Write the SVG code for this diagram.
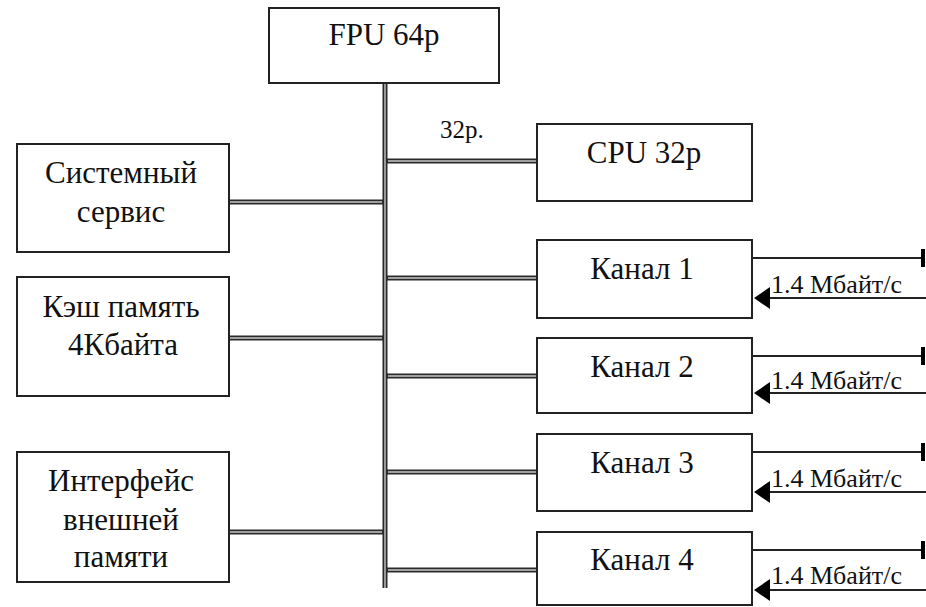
<svg xmlns="http://www.w3.org/2000/svg" width="926" height="607" viewBox="0 0 926 607">
<style>
.box{fill:#fff;stroke:#222;stroke-width:2}
.t{font-family:'Liberation Serif','DejaVu Serif',serif;font-size:31px;fill:#111;text-anchor:middle}
.s{font-family:'Liberation Serif','DejaVu Serif',serif;font-size:25px;fill:#111}
.lb{font-size:26px}
.bo{stroke:#2a2a2a;stroke-width:5;fill:none}
.bi{stroke:#c8c8c8;stroke-width:1.4;fill:none}
.ln{stroke:#222;stroke-width:2;fill:none}
</style>
<defs>
<marker id="ah" markerUnits="userSpaceOnUse" markerWidth="18" markerHeight="22" refX="0" refY="11" orient="auto" viewBox="0 0 18 22">
<path d="M0,0 L16,11 L0,22 Z" fill="#000"/>
</marker>
</defs>
<g id="connectors">
<path class="bo" d="M385,83 V588 M229,202 H385 M229,338 H385 M229,532 H385 M385,161 H537 M385,278 H537 M385,376 H537 M385,472 H537 M385,570 H537"/>
<path class="bi" d="M385,83 V588 M229,202 H382 M229,338 H382 M229,532 H382 M388,161 H537 M388,278 H537 M388,376 H537 M388,472 H537 M388,570 H537"/>
<path class="ln" d="M752,258 H922 M752,356 H922 M752,452 H922 M752,550 H922"/>
<rect x="921" y="249" width="4" height="18" fill="#000"/>
<rect x="921" y="347" width="4" height="18" fill="#000"/>
<rect x="921" y="443" width="4" height="18" fill="#000"/>
<rect x="921" y="541" width="4" height="18" fill="#000"/>
<path class="ln" d="M926,298 H770" marker-end="url(#ah)"/>
<path class="ln" d="M926,393 H770" marker-end="url(#ah)"/>
<path class="ln" d="M926,492 H770" marker-end="url(#ah)"/>
<path class="ln" d="M926,590 H770" marker-end="url(#ah)"/>
<text class="s" x="440" y="138">32р.</text>
<text class="s lb" x="771" y="293">1.4 Мбайт/с</text>
<text class="s lb" x="771" y="389">1.4 Мбайт/с</text>
<text class="s lb" x="771" y="487">1.4 Мбайт/с</text>
<text class="s lb" x="771" y="584">1.4 Мбайт/с</text>
</g>
<g id="fpu"><rect class="box" x="269" y="8" width="230" height="75"/><text class="t" x="384" y="45">FPU 64р</text></g>
<g id="cpu"><rect class="box" x="537" y="124" width="215" height="77"/><text class="t" x="644" y="163">CPU 32р</text></g>
<g id="ch1"><rect class="box" x="537" y="240" width="215" height="78"/><text class="t" x="642" y="279">Канал 1</text></g>
<g id="ch2"><rect class="box" x="537" y="338" width="215" height="75"/><text class="t" x="642" y="377">Канал 2</text></g>
<g id="ch3"><rect class="box" x="537" y="434" width="215" height="77"/><text class="t" x="642" y="473">Канал 3</text></g>
<g id="ch4"><rect class="box" x="537" y="532" width="215" height="73"/><text class="t" x="642" y="570">Канал 4</text></g>
<g id="sys"><rect class="box" x="17" y="144" width="212" height="108"/><text class="t" x="121" y="183">Системный</text><text class="t" x="121" y="222">сервис</text></g>
<g id="cache"><rect class="box" x="17" y="277" width="212" height="119"/><text class="t" x="121" y="317">Кэш память</text><text class="t" x="123" y="355">4Кбайта</text></g>
<g id="iface"><rect class="box" x="17" y="452" width="212" height="130"/><text class="t" x="121" y="491">Интерфейс</text><text class="t" x="121" y="530">внешней</text><text class="t" x="121" y="567">памяти</text></g>
</svg>
